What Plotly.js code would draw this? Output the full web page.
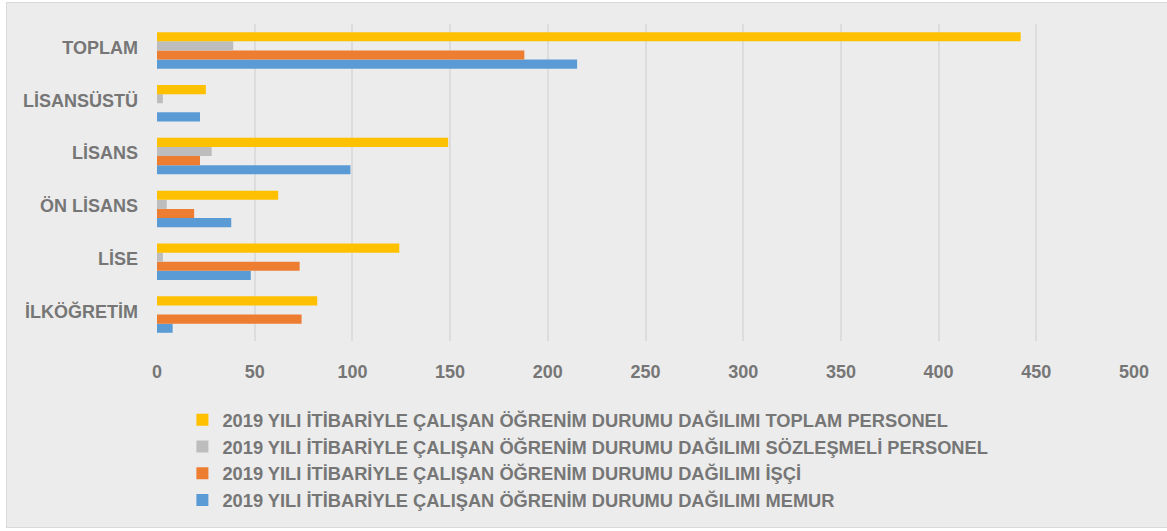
<!DOCTYPE html>
<html>
<head>
<meta charset="utf-8">
<script src="https://cdn.plot.ly/plotly-3.0.1.min.js"></script>
<style>
  html, body { margin: 0; padding: 0; background: #ffffff; }
  #frame { position: absolute; left: 6px; top: 2px; width: 1170px; height: 526px;
           background: #ececec; border: 1px solid #d9d9d9; box-sizing: border-box; }
  #chart { position: absolute; left: 0; top: 0; width: 1167px; height: 531px; }
</style>
</head>
<body>
<div id="frame"></div>
<div id="chart"></div>
<script>
const categories = ['İLKÖĞRETİM', 'LİSE', 'ÖN LİSANS', 'LİSANS', 'LİSANSÜSTÜ', 'TOPLAM'];
const memur       = [8, 48, 38, 99, 22, 215];
const isci        = [74, 73, 19, 22, 0, 188];
const sozlesmeli  = [0, 3, 5, 28, 3, 39];
const toplam      = [82, 124, 62, 149, 25, 442];
const seriesNames = [
  '2019 YILI İTİBARİYLE ÇALIŞAN ÖĞRENİM DURUMU DAĞILIMI MEMUR',
  '2019 YILI İTİBARİYLE ÇALIŞAN ÖĞRENİM DURUMU DAĞILIMI İŞÇİ',
  '2019 YILI İTİBARİYLE ÇALIŞAN ÖĞRENİM DURUMU DAĞILIMI SÖZLEŞMELİ PERSONEL',
  '2019 YILI İTİBARİYLE ÇALIŞAN ÖĞRENİM DURUMU DAĞILIMI TOPLAM PERSONEL'
];
const xTicks = [0, 50, 100, 150, 200, 250, 300, 350, 400, 450, 500];

const colors = ['#5b9bd5', '#ed7d31', '#bdbdbd', '#ffc000'];
const values = [memur, isci, sozlesmeli, toplam];

const traces = values.map((v, i) => ({
  type: 'bar',
  orientation: 'h',
  y: categories,
  x: v,
  name: seriesNames[i],
  marker: { color: colors[i], line: { width: 0 } },
  hoverinfo: 'x+name'
}));

const fontBase = { family: '"Liberation Sans", Arial, sans-serif', color: '#767676', weight: 'bold' };

const layout = {
  width: 1167,
  height: 531,
  paper_bgcolor: 'rgba(0,0,0,0)',
  plot_bgcolor: '#ececec',
  margin: { l: 157, r: 33, t: 24, b: 188, pad: 0 },
  barmode: 'group',
  bargap: 0.31,
  bargroupgap: 0,
  showlegend: true,
  legend: {
    x: 0.026, xanchor: 'left',
    y: -0.19, yanchor: 'top',
    traceorder: 'reversed',
    bgcolor: 'rgba(0,0,0,0)',
    font: Object.assign({}, fontBase, { size: 18.3 }),
    itemwidth: 30
  },
  xaxis: {
    range: [0, 500],
    tickvals: xTicks,
    ticktext: xTicks.map(String),
    showgrid: true,
    gridcolor: '#dcdcdc',
    gridwidth: 2,
    zeroline: false,
    showline: false,
    ticks: '',
    ticklabelstandoff: 18,
    tickfont: Object.assign({}, fontBase, { size: 18 }),
    fixedrange: true
  },
  yaxis: {
    type: 'category',
    categoryorder: 'array',
    categoryarray: categories,
    showgrid: false,
    zeroline: false,
    showline: false,
    ticks: '',
    ticklabelstandoff: 18,
    ticklabelshift: -3,
    tickfont: Object.assign({}, fontBase, { size: 18 }),
    fixedrange: true
  }
};

Plotly.newPlot('chart', traces, layout, { displayModeBar: false, staticPlot: true });
</script>
</body>
</html>
